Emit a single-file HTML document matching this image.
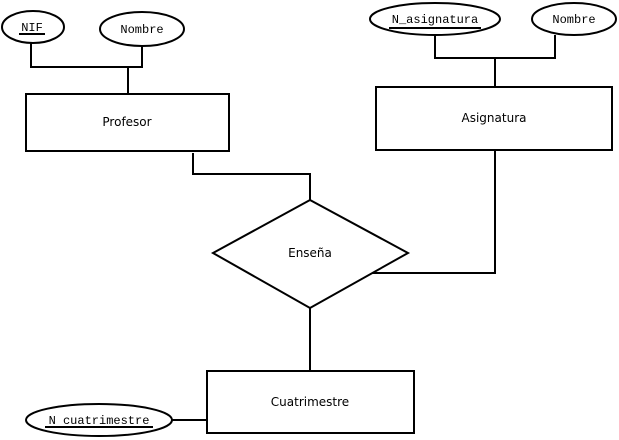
<!DOCTYPE html>
<html><head><style>html,body{margin:0;padding:0;background:#fff}</style></head><body>
<svg width="619" height="440" xmlns="http://www.w3.org/2000/svg" style="display:block">
<g fill="none" stroke="#000" stroke-width="2">
<ellipse cx="33" cy="27" rx="31" ry="16"/>
<ellipse cx="142" cy="29" rx="42" ry="17"/>
<ellipse cx="435" cy="19" rx="65" ry="16"/>
<ellipse cx="574" cy="19" rx="42" ry="16"/>
<ellipse cx="99" cy="420" rx="73" ry="16"/>
<rect x="26" y="94" width="203" height="57"/>
<rect x="376" y="87" width="236" height="63"/>
<rect x="207" y="371" width="207" height="62"/>
<polygon points="310,200 408,253 310,308 213,253"/>
<polyline points="31,43 31,67 142,67 142,46"/>
<line x1="128" y1="67" x2="128" y2="93"/>
<polyline points="435,35 435,58 555,58 555,35"/>
<line x1="495" y1="58" x2="495" y2="87"/>
<polyline points="193,153 193,174 310,174 310,200"/>
<polyline points="495,150 495,273 372,273"/>
<line x1="310" y1="308" x2="310" y2="371"/>
<line x1="172" y1="420" x2="207" y2="420"/>
</g>
<g font-family="Liberation Mono, DejaVu Sans Mono, monospace" font-size="12" text-anchor="middle">
<text x="32" y="31">NIF</text>
<text x="142" y="33">Nombre</text>
<text x="435" y="23">N_asignatura</text>
<text x="574" y="23">Nombre</text>
<text x="99" y="424">N cuatrimestre</text>
</g>
<g stroke="#000" stroke-width="2">
<line x1="19" y1="34" x2="45" y2="34"/>
<line x1="389" y1="28" x2="481" y2="28"/>
<line x1="45" y1="427" x2="153" y2="427"/>
</g>
<g font-family="DejaVu Sans, Liberation Sans, sans-serif" font-size="12" text-anchor="middle">
<text x="127" y="126">Profesor</text>
<text x="494" y="122">Asignatura</text>
<text x="310" y="257">Enseña</text>
<text x="310" y="406">Cuatrimestre</text>
</g>
</svg>
</body></html>
